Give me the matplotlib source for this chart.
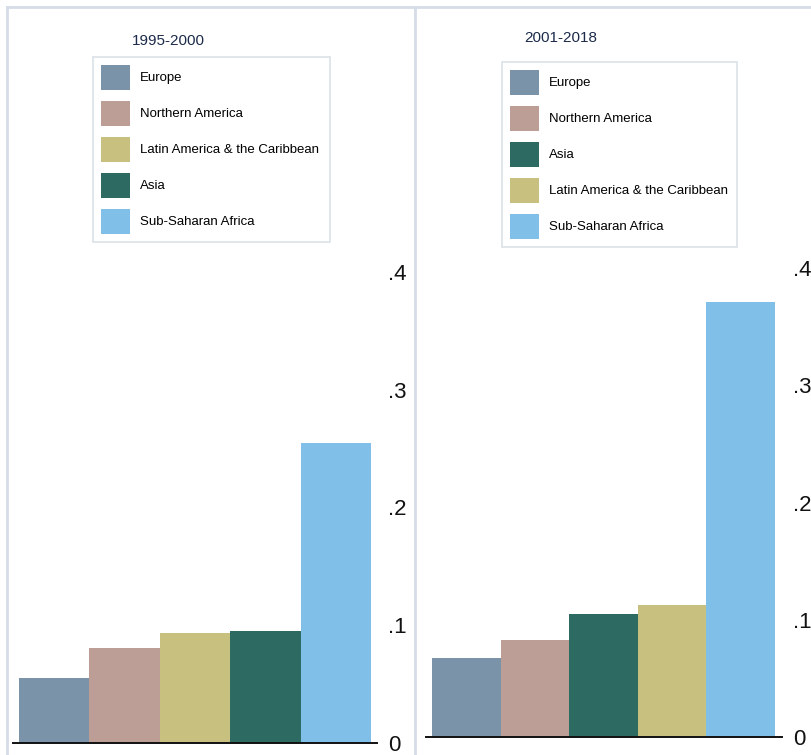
import matplotlib
matplotlib.use("Agg")
from matplotlib import pyplot as plt
from matplotlib.lines import Line2D
from matplotlib.patches import Patch

plt.rcParams['font.family'] = ['Liberation Sans', 'DejaVu Sans']

# data
regions_early = ['Europe', 'Northern America', 'Latin America & the Caribbean', 'Asia', 'Sub-Saharan Africa']
values_early = [0.055, 0.081, 0.093, 0.095, 0.255]
regions_late = ['Europe', 'Northern America', 'Asia', 'Latin America & the Caribbean', 'Sub-Saharan Africa']
values_late = [0.067, 0.083, 0.105, 0.113, 0.371]
titles = ['1995-2000', '2001-2018']
yticks = [0, 0.1, 0.2, 0.3, 0.4]
ytick_labels = ['0', '.1', '.2', '.3', '.4']

colors = {
    'Europe': '#7a93a8',
    'Northern America': '#bd9e97',
    'Latin America & the Caribbean': '#c8c07e',
    'Asia': '#2d6b62',
    'Sub-Saharan Africa': '#80bfe8',
}

W, H = 811, 755
fig = plt.figure(figsize=(W / 100, H / 100), dpi=100)


def px_box(x0, x1, ybot, ytop):
    return [x0 / W, 1 - ybot / H, (x1 - x0) / W, (ybot - ytop) / H]


panels = [
    dict(regions=regions_early, values=values_early, box=px_box(13, 377, 743, 260),
         xlim=(-0.585, 4.585), ylim=(0, 0.41), title=titles[0], title_xy=(168, 41),
         legend_box=(93, 57, 330)),
    dict(regions=regions_late, values=values_late, box=px_box(426, 782, 737, 260),
         xlim=(-0.587, 4.602), ylim=(0, 0.407), title=titles[1], title_xy=(561, 38),
         legend_box=(502, 62, 737)),
]

fs = 9.5
for p in panels:
    ax = fig.add_axes(p['box'])
    xs = range(len(p['regions']))
    ax.bar(xs, p['values'], width=1.0, color=[colors[r] for r in p['regions']],
           edgecolor='none', align='center')
    ax.set_xlim(*p['xlim'])
    ax.set_ylim(*p['ylim'])
    for s in ['top', 'left', 'right']:
        ax.spines[s].set_visible(False)
    ax.spines['bottom'].set_linewidth(1.4)
    ax.spines['bottom'].set_color('#111111')
    ax.set_xticks([])
    ax.yaxis.tick_right()
    ax.set_yticks(yticks)
    ax.set_yticklabels(ytick_labels)
    ax.tick_params(axis='y', length=0, pad=8, labelsize=16, labelcolor='#111111')
    ax.patch.set_alpha(0)

    handles = [Patch(facecolor=colors[r], edgecolor='none') for r in p['regions']]
    lx, ly, rx = p['legend_box']
    leg = fig.legend(handles, p['regions'], loc='upper left', mode='expand',
                     bbox_to_anchor=(lx / W, 1 - ly / H - 0.2, (rx - lx) / W, 0.2),
                     fontsize=fs,
                     handlelength=2.2, handleheight=2.54, labelspacing=0.83,
                     handletextpad=0.76, borderpad=0.6, borderaxespad=0,
                     frameon=True, fancybox=False)
    leg.get_frame().set_edgecolor('#d3dae2')
    leg.get_frame().set_linewidth(1.2)

    tx, ty = p['title_xy']
    fig.text(tx / W, 1 - ty / H, p['title'], ha='center', va='center',
             fontsize=11, color='#1c2b4a')

# panel borders
border = '#d6dde7'
fig.add_artist(Line2D([7 / W, 7 / W], [0, 1 - 7 / H], color=border, lw=2))
fig.add_artist(Line2D([415 / W, 415 / W], [0, 1 - 7 / H], color=border, lw=2))
fig.add_artist(Line2D([7 / W, 1], [1 - 7 / H, 1 - 7 / H], color=border, lw=2))

fig.savefig('out.png', dpi=100)
